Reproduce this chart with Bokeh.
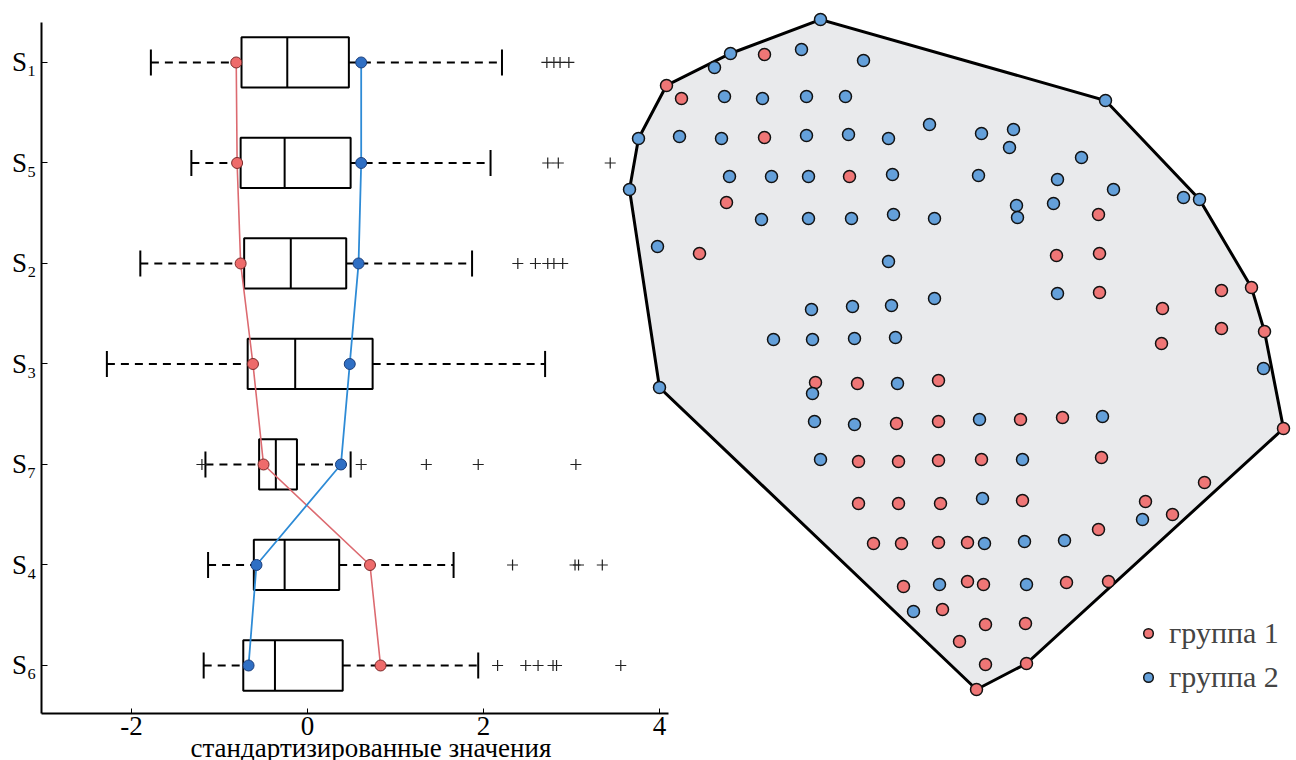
import numpy as np
from bokeh.plotting import figure
from bokeh.models import Range1d, FixedTicker, Legend, LegendItem
from bokeh.embed import file_html
from bokeh.resources import INLINE

# ---------------- left panel data (box plots, top to bottom) ----------------
cats = ["S1", "S5", "S2", "S3", "S7", "S4", "S6"]
cat_labels = ["S\u2081", "S\u2085", "S\u2082", "S\u2083", "S\u2087", "S\u2084", "S\u2086"]
whisk_lo = [-1.78, -1.32, -1.90, -2.28, -1.16, -1.13, -1.18]
q1 = [-0.75, -0.76, -0.72, -0.68, -0.55, -0.61, -0.73]
median = [-0.23, -0.26, -0.19, -0.14, -0.36, -0.26, -0.37]
q3 = [0.47, 0.49, 0.44, 0.74, -0.12, 0.36, 0.40]
whisk_hi = [2.21, 2.08, 1.87, 2.70, 0.49, 1.66, 1.94]
mean_g1 = [-0.81, -0.80, -0.76, -0.62, -0.50, 0.71, 0.83]
mean_g2 = [0.61, 0.61, 0.58, 0.48, 0.38, -0.58, -0.67]
outliers = {
    "S1": [2.72, 2.80, 2.87, 2.97],
    "S5": [2.73, 2.85, 3.44],
    "S2": [2.39, 2.59, 2.73, 2.80, 2.90],
    "S3": [],
    "S7": [-1.20, 0.61, 1.35, 1.94, 3.05],
    "S4": [2.33, 3.04, 3.08, 3.35],
    "S6": [2.16, 2.48, 2.62, 2.79, 2.83, 3.56],
}
x_ticks = [-2, 0, 2, 4]
x_tick_labels = ["-2", "0", "2", "4"]
x_title = "стандартизированные значения"

# ---------------- right panel data (2-D map of objects) ----------------
g1_x = [764, 666, 681, 764, 849, 726, 1098, 699, 1056, 1099, 1099, 1221, 1251, 1162, 1221, 1264, 1161,
        815, 857, 938, 896, 938, 1020, 1062, 1283, 858, 898, 938, 981, 1101, 1204, 858, 898, 940, 1022,
        1145, 1172, 1098, 873, 901, 938, 967, 903, 967, 983, 1066, 1108, 942, 985, 1025, 959, 985, 1026, 976]
g1_y = [54, 85, 98, 137, 176, 202, 214, 253, 255, 253, 292, 290, 287, 308, 328, 331, 343,
        382, 383, 380, 423, 421, 419, 417, 428, 461, 461, 460, 459, 457, 482, 503, 503, 503, 500,
        501, 514, 529, 543, 543, 542, 542, 586, 581, 584, 582, 581, 609, 624, 623, 641, 664, 663, 689]
g2_x = [820, 730, 801, 863, 714, 724, 762, 806, 845, 1105, 638, 679, 721, 806, 848, 888, 929, 981, 1013,
        1009, 1081, 629, 729, 771, 808, 892, 978, 1057, 1113, 1183, 1199, 761, 808, 851, 893, 934, 1016,
        1017, 1053, 657, 888, 1057, 811, 852, 891, 934, 1263, 773, 812, 854, 895, 897, 812, 659, 814, 854,
        979, 1102, 820, 1022, 982, 1142, 984, 1024, 1064, 939, 1026, 913]
g2_y = [19, 53, 49, 60, 67, 96, 98, 96, 96, 100, 138, 136, 138, 135, 134, 138, 124, 133, 129,
        147, 157, 189, 176, 176, 176, 174, 175, 179, 189, 197, 199, 219, 218, 218, 214, 218, 205,
        217, 203, 246, 261, 293, 309, 306, 305, 298, 368, 339, 339, 338, 337, 383, 393, 387, 421, 424,
        419, 416, 459, 459, 498, 519, 543, 541, 540, 584, 584, 611]
group_names = ["группа 1", "группа 2"]


def convex_hull(xs, ys):
    pts = sorted(set(zip(xs, ys)))

    def cross(o, a, b):
        return (a[0] - o[0]) * (b[1] - o[1]) - (a[1] - o[1]) * (b[0] - o[0])

    lower, upper = [], []
    for pt in pts:
        while len(lower) >= 2 and cross(lower[-2], lower[-1], pt) <= 0:
            lower.pop()
        lower.append(pt)
    for pt in reversed(pts):
        while len(upper) >= 2 and cross(upper[-2], upper[-1], pt) <= 0:
            upper.pop()
        upper.append(pt)
    hull = lower[:-1] + upper[:-1]
    return [h[0] for h in hull], [h[1] for h in hull]


SERIF = "Liberation Serif"
RED_FILL = "#ef7676"
BLUE_FILL = "#64a0da"

n = len(cats)
ypos = np.array([n - i for i in range(n)], dtype=float)  # S1 on top

p = figure(width=1296, height=760, output_backend="svg", toolbar_location=None,
           x_range=Range1d(-3.023, 11.239), y_range=Range1d(0.5224, 7.537),
           min_border_left=41, min_border_right=0, min_border_top=8, min_border_bottom=47,
           title_location="below")
p.grid.visible = False
p.outline_line_color = None
p.background_fill_color = "white"
p.extra_x_ranges = {"mx": Range1d(41.0, 1296.0)}
p.extra_y_ranges = {"my": Range1d(713.0, 8.0)}

# x-axis title (placed under the left panel)
p.title.text = x_title
p.title.align = "left"
p.title.offset = 149
p.title.standoff = -14
p.title.text_font = SERIF
p.title.text_font_size = "27px"
p.title.text_font_style = "normal"
p.title.text_color = "black"

# axes
xa = p.xaxis[0]
xa.ticker = FixedTicker(ticks=x_ticks, minor_ticks=[])
xa.major_label_overrides = {float(t): s for t, s in zip(x_ticks, x_tick_labels)}
xa.bounds = (-3.023, 4.1)
xa.major_tick_in = 5
xa.major_tick_out = 0
xa.minor_tick_line_color = None
xa.axis_line_width = 2
xa.axis_line_color = "black"
xa.major_tick_line_color = "black"
xa.major_tick_line_width = 1
xa.major_label_text_font = SERIF
xa.major_label_text_font_size = "27px"
xa.major_label_text_color = "black"
xa.major_label_standoff = 3

ya = p.yaxis[0]
ya.ticker = FixedTicker(ticks=list(ypos), minor_ticks=[])
ya.major_label_overrides = {float(v): lab for v, lab in zip(ypos, cat_labels)}
ya.bounds = (0.5224, 7.398)
ya.major_tick_in = 6
ya.major_tick_out = 0
ya.minor_tick_line_color = None
ya.axis_line_width = 2
ya.axis_line_color = "black"
ya.major_tick_line_color = "black"
ya.major_label_text_font = SERIF
ya.major_label_text_font_size = "27px"
ya.major_label_text_color = "black"
ya.major_label_standoff = 5

# ---------------- box plots ----------------
hb = 0.25
cap = 0.13
p.quad(left=q1, right=q3, bottom=list(ypos - hb), top=list(ypos + hb),
       fill_alpha=0, line_color="black", line_width=2)
p.segment(x0=median, y0=list(ypos - hb), x1=median, y1=list(ypos + hb),
          line_color="black", line_width=2)
p.segment(x0=whisk_lo, y0=list(ypos), x1=q1, y1=list(ypos),
          line_color="black", line_width=2, line_dash="8 6")
p.segment(x0=q3, y0=list(ypos), x1=whisk_hi, y1=list(ypos),
          line_color="black", line_width=2, line_dash="8 6")
p.segment(x0=whisk_lo, y0=list(ypos - cap), x1=whisk_lo, y1=list(ypos + cap),
          line_color="black", line_width=2)
p.segment(x0=whisk_hi, y0=list(ypos - cap), x1=whisk_hi, y1=list(ypos + cap),
          line_color="black", line_width=2)

ox, oy = [], []
for c, yv in zip(cats, ypos):
    for v in outliers[c]:
        ox.append(v)
        oy.append(yv)
p.scatter(ox, oy, marker="cross", size=11, line_color="#222222", line_width=1.2)

# group means
p.line(mean_g1, list(ypos), line_color="#dc6a70", line_width=1.6)
p.line(mean_g2, list(ypos), line_color="#2e8bd6", line_width=1.8)
p.scatter(mean_g1, list(ypos), size=11, fill_color="#ee6b6b", line_color="#7a2a2a", line_width=1)
p.scatter(mean_g2, list(ypos), size=11, fill_color="#2f6fc4", line_color="#1d3f7a", line_width=1)

# ---------------- right panel: hull + points ----------------
hx, hy = convex_hull(g1_x + g2_x, g1_y + g2_y)
p.patch(hx, hy, fill_color="#e9eaec", line_color="black", line_width=3,
        line_join="miter", x_range_name="mx", y_range_name="my")
r1 = p.scatter(g1_x, g1_y, size=12, fill_color=RED_FILL, line_color="#111111", line_width=1.5,
               x_range_name="mx", y_range_name="my")
r2 = p.scatter(g2_x, g2_y, size=12, fill_color=BLUE_FILL, line_color="#111111", line_width=1.5,
               x_range_name="mx", y_range_name="my")

legend = Legend(items=[LegendItem(label=group_names[0], renderers=[r1]),
                       LegendItem(label=group_names[1], renderers=[r2])],
                location=(1095, 19), orientation="vertical",
                glyph_width=24, glyph_height=32, label_height=32, spacing=10,
                label_standoff=9, padding=0, margin=0,
                border_line_alpha=0, background_fill_alpha=0,
                label_text_font=SERIF, label_text_font_size="30px")
p.add_layout(legend)

open("out.html", "w").write(file_html(p, INLINE))
